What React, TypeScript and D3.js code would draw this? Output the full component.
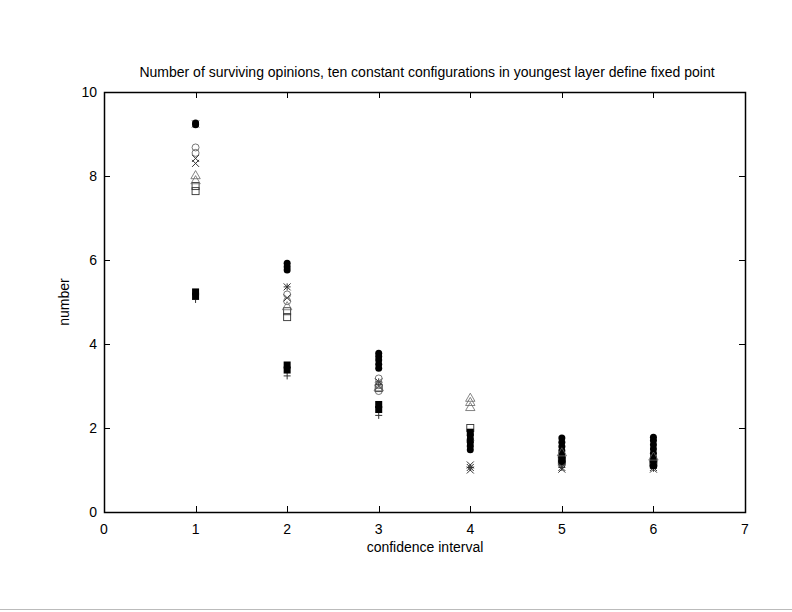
import { useEffect, useRef } from 'react';
import * as d3 from 'd3';

const title =
  'Number of surviving opinions, ten constant configurations in youngest layer define fixed point';
const xLabel = 'confidence interval';
const yLabel = 'number';

const xTicks = [0, 1, 2, 3, 4, 5, 6, 7];
const yTicks = [0, 2, 4, 6, 8, 10];
const confidence = [1, 2, 3, 4, 5, 6];

// values per confidence interval (one inner list per x)
const filledCircles = [
  [9.22, 9.26],
  [5.76, 5.84, 5.92],
  [3.42, 3.52, 3.62, 3.7, 3.78],
  [1.48, 1.58, 1.66, 1.74, 1.82],
  [1.2, 1.3, 1.38, 1.46, 1.56, 1.66, 1.76],
  [1.1, 1.2, 1.3, 1.4, 1.5, 1.6, 1.7, 1.78],
];
const openCircles = [[8.55, 8.68], [5.02, 5.18], [2.88, 3.02, 3.18], [1.7], [1.3], [1.2]];
const crosses = [[8.3, 8.42], [5.1], [3.0], [1.0, 1.12], [1.02], [1.02]];
const asterisks = [[9.24], [5.36], [3.1], [1.06], [1.06], [1.06]];
const triangles = [[7.88, 8.0], [4.88], [2.95], [2.48, 2.6, 2.7], [1.4], [1.3]];
const openSquares = [[7.64, 7.76], [4.64, 4.78], [2.95], [2.0], [1.22], [1.16]];
const filledSquares = [[5.14, 5.24], [3.38, 3.5], [2.44, 2.56], [1.9], [1.26], [1.12]];
const pluses = [[5.06], [3.24], [2.3], [1.55], [1.1], [1.04]];

type Kind = 'fc' | 'oc' | 'x' | 'ast' | 'tri' | 'os' | 'fs' | 'plus';

const seriesList: { kind: Kind; values: number[][] }[] = [
  { kind: 'plus', values: pluses },
  { kind: 'x', values: crosses },
  { kind: 'ast', values: asterisks },
  { kind: 'os', values: openSquares },
  { kind: 'fs', values: filledSquares },
  { kind: 'oc', values: openCircles },
  { kind: 'fc', values: filledCircles },
  { kind: 'tri', values: triangles },
];

export default function App() {
  const ref = useRef<SVGSVGElement>(null);

  useEffect(() => {
    const svgEl = ref.current;
    if (!svgEl) return;
    const svg = d3.select(svgEl);
    svg.selectAll('*').remove();

    const left = 104,
      right = 745,
      top = 92,
      bottom = 512;
    const font = 'Liberation Sans, Arial, Helvetica, sans-serif';

    const x = d3.scaleLinear().domain([0, 7]).range([left, right]);
    const y = d3.scaleLinear().domain([0, 10]).range([bottom, top]);

    svg.append('rect').attr('width', 792).attr('height', 612).attr('fill', 'white');

    // bottom page divider
    svg
      .append('line')
      .attr('x1', 0)
      .attr('x2', 792)
      .attr('y1', 609.5)
      .attr('y2', 609.5)
      .attr('stroke', '#bbb');

    // title
    svg
      .append('text')
      .attr('x', 427)
      .attr('y', 77)
      .attr('text-anchor', 'middle')
      .attr('font-family', font)
      .attr('font-size', 14)
      .text(title);

    const tickG = svg.append('g').attr('stroke', 'black').attr('stroke-width', 1);
    const tl = 6;
    xTicks.forEach((t) => {
      const px = Math.round(x(t)) + 0.5;
      tickG.append('line').attr('x1', px).attr('x2', px).attr('y1', bottom).attr('y2', bottom - tl);
      tickG.append('line').attr('x1', px).attr('x2', px).attr('y1', top).attr('y2', top + tl);
    });
    yTicks.forEach((t) => {
      const py = Math.round(y(t)) + 0.5;
      tickG.append('line').attr('x1', left).attr('x2', left + tl).attr('y1', py).attr('y2', py);
      tickG.append('line').attr('x1', right).attr('x2', right - tl).attr('y1', py).attr('y2', py);
    });

    const labels = svg.append('g').attr('font-family', font).attr('font-size', 14).attr('fill', 'black');
    labels
      .selectAll('text.xt')
      .data(xTicks)
      .join('text')
      .attr('class', 'xt')
      .attr('x', (d) => x(d))
      .attr('y', 534)
      .attr('text-anchor', 'middle')
      .text((d) => d);
    labels
      .selectAll('text.yt')
      .data(yTicks)
      .join('text')
      .attr('class', 'yt')
      .attr('x', 97)
      .attr('y', (d) => y(d) + 5)
      .attr('text-anchor', 'end')
      .text((d) => d);

    labels
      .append('text')
      .attr('x', 425)
      .attr('y', 552)
      .attr('text-anchor', 'middle')
      .text(xLabel);
    labels
      .append('text')
      .attr('transform', `translate(69,${(top + bottom) / 2}) rotate(-90)`)
      .attr('text-anchor', 'middle')
      .text(yLabel);

    // frame
    svg
      .append('rect')
      .attr('x', left + 0.5)
      .attr('y', top + 0.5)
      .attr('width', right - left)
      .attr('height', bottom - top)
      .attr('fill', 'none')
      .attr('stroke', 'black')
      .attr('stroke-width', 1.5);

    // points
    const pts = svg.append('g');
    const r = 3.5;
    seriesList.forEach((s) => {
      s.values.forEach((vals, i) => {
        vals.forEach((v) => {
          const cx = x(confidence[i]);
          const cy = y(v);
          const g = pts.append('g').attr('transform', `translate(${cx},${cy})`);
          switch (s.kind) {
            case 'fc':
              g.append('circle').attr('r', r).attr('fill', 'black');
              break;
            case 'oc':
              g.append('circle').attr('r', r).attr('fill', 'none').attr('stroke', '#555').attr('stroke-width', 0.8);
              break;
            case 'fs':
              g.append('rect').attr('x', -r).attr('y', -r).attr('width', 2 * r).attr('height', 2 * r).attr('fill', 'black');
              break;
            case 'os':
              g.append('rect')
                .attr('x', -r)
                .attr('y', -r)
                .attr('width', 2 * r)
                .attr('height', 2 * r)
                .attr('fill', 'none')
                .attr('stroke', '#333')
                .attr('stroke-width', 0.9);
              break;
            case 'tri':
              g.append('path')
                .attr('d', d3.symbol(d3.symbolTriangle, 38)())
                .attr('fill', 'none')
                .attr('stroke', '#666')
                .attr('stroke-width', 0.8);
              break;
            case 'x':
              g.append('path')
                .attr('d', `M${-r},${-r}L${r},${r}M${-r},${r}L${r},${-r}`)
                .attr('stroke', '#333')
                .attr('stroke-width', 1);
              break;
            case 'plus':
              g.append('path')
                .attr('d', `M${-r},0L${r},0M0,${-r}L0,${r}`)
                .attr('stroke', '#333')
                .attr('stroke-width', 1);
              break;
            case 'ast':
              g.append('path')
                .attr('d', `M${-r},${-r}L${r},${r}M${-r},${r}L${r},${-r}M${-r},0L${r},0M0,${-r}L0,${r}`)
                .attr('stroke', '#333')
                .attr('stroke-width', 1);
              break;
          }
        });
      });
    });
  }, []);

  return (
    <svg
      ref={ref}
      width={792}
      height={612}
      style={{ position: 'absolute', left: 0, top: 0, display: 'block' }}
    />
  );
}
